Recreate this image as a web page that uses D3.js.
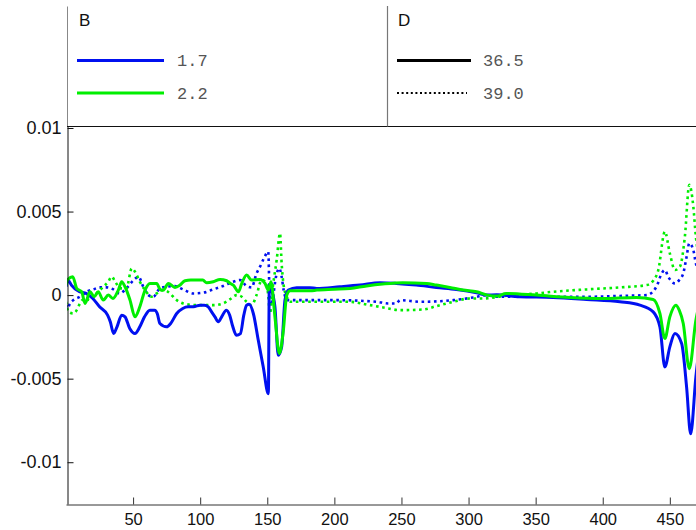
<!DOCTYPE html>
<html>
<head>
<meta charset="utf-8">
<script src="https://cdn.jsdelivr.net/npm/d3@7/dist/d3.min.js"></script>
<style>
  html, body { margin: 0; padding: 0; background: #fff; }
  svg { display: block; }
</style>
</head>
<body>
<svg id="chart" width="696" height="530"></svg>
<script>
// Difference spectra: B = 1.7 / 2.2 (colour), D = 36.5 / 39.0 (line style)
const xTicks = [50, 100, 150, 200, 250, 300, 350, 400, 450];
const yTicks = [-0.01, -0.005, 0, 0.005, 0.01];
const yTickLabels = ["-0.01", "-0.005", "0", "0.005", "0.01"];

const legendB = ["1.7", "2.2"];
const legendD = ["36.5", "39.0"];

// [x, value] pairs per series
const b17_d365 = [
  [0, 0.0005], [1.5, 0.0009], [4, 0.0006], [10, 0.0002], [15, 0.0001], [20, -0.0002],
  [25, -0.0007], [31, -0.0012], [33, -0.0016], [35.5, -0.0023], [38, -0.0019], [41.5, -0.0012],
  [44, -0.0013], [47.5, -0.002], [51.4, -0.0023], [55, -0.0019], [58.5, -0.0013], [62.5, -0.0009],
  [66, -0.0009], [68, -0.0011], [70, -0.0017], [75, -0.0019], [78, -0.0017], [82.5, -0.0011],
  [87, -0.0008], [91, -0.0007], [95, -0.0007], [100, -0.0006], [103, -0.0006], [106, -0.0007],
  [108.5, -0.001], [111, -0.0013], [113.5, -0.0016], [116, -0.0013], [119.5, -0.0009], [122, -0.0012],
  [124, -0.0018], [127, -0.0024], [130, -0.0023], [132.5, -0.0012], [134.6, -0.0006], [136.5, -0.00055],
  [139.6, -0.0011], [143.3, -0.0027], [147, -0.0043], [150.8, -0.0059], [151.5, 0.0005], [153, 0.0003],
  [155.7, -0.0007], [158.2, -0.0036], [160.7, -0.0031], [163.2, -0.0003], [165.7, 0.0003], [171.9, 0.00044],
  [181.8, 0.00044], [186.8, 0.0004], [204, 0.0005], [219, 0.0006], [234, 0.00074], [246, 0.0007],
  [261, 0.0006], [276, 0.00046], [291, 0.00034], [306, 0.00014], [313.5, 0.0], [321, 0.00002],
  [338, -0.0001], [363, -0.00014], [388, -0.00026], [412.8, -0.0004], [427.7, -0.0006], [437.6, -0.001],
  [442.6, -0.0019], [446.3, -0.0043], [450, -0.0031], [453.8, -0.0023], [458.8, -0.0029], [462.5, -0.0055],
  [465.5, -0.0083], [469.4, -0.0049], [472, -0.003]
];

const b22_d365 = [
  [0, 0.0006], [1, 0.0009], [5, 0.0011], [8, 0.0004], [11.7, 0.0002], [14.2, -0.0005],
  [17.9, 0.0002], [21, -0.0001], [24, 0.0002], [27.8, -0.0003], [31.5, 0.0], [35, -0.0002],
  [39, 0.0003], [41.5, 0.0008], [44, 0.0005], [47.7, -0.0003], [51.4, -0.0013], [55, -0.0007],
  [58.9, 0.0003], [62.6, 0.0007], [67.6, 0.0007], [70.5, 0.0003], [72.5, 0.0003], [76.3, 0.0007],
  [81.2, 0.00046], [85, 0.0006], [88.7, 0.00086], [93, 0.0009], [97.4, 0.0009], [102, 0.0009],
  [104.8, 0.00074], [109.7, 0.0008], [114.8, 0.00094], [119.7, 0.00086], [122.5, 0.0007], [124.7, 0.0006],
  [128.5, 0.0002], [131, 0.0007], [134.6, 0.0012], [138.3, 0.0009], [144.6, 0.00094], [148.3, 0.0007],
  [150.8, 0.0003], [152.8, 0.0008], [155.7, -0.0013], [159, -0.0035], [162, -0.0021], [164.5, 0.0],
  [167, 0.00026], [172, 0.00026], [182, 0.00026], [187, 0.0003], [200, 0.00035], [211.6, 0.0004],
  [224, 0.00055], [236, 0.00066], [251, 0.00074], [268.8, 0.0007], [276, 0.0006], [286, 0.00046],
  [296, 0.0003], [306, 0.0002], [314, 0.0], [321, -0.00006], [328, 0.0001], [350.7, 0.0],
  [375.6, -0.00014], [400, -0.0002], [425, -0.00014], [437.6, -0.00026], [442.6, -0.0011], [446.3, -0.0026],
  [450, -0.0013], [454.5, -0.0006], [457, -0.0009], [460, -0.0017], [464.5, -0.0044], [469.4, -0.0015],
  [472, -0.0005]
];

const b17_d390 = [
  [0, -0.0006], [1, -0.0008], [3, -0.0005], [5.5, -0.0003], [10.4, -0.0001], [15.4, 0.0002],
  [20.4, 0.00034], [25.3, 0.00046], [30.3, 0.00046], [35.3, 0.00034], [40, 0.0001], [45, 0.0004],
  [50.4, 0.0009], [54, 0.0011], [57.6, 0.0005], [61.4, 0.0], [65, -0.0001], [70, 0.0004],
  [75, 0.0005], [81.2, 0.00054], [87.4, 0.00034], [95, 0.0001], [102, 0.00014], [109.7, 0.00034],
  [117, 0.00054], [124.7, 0.0008], [129.7, 0.0009], [134.6, 0.00054], [138.3, 0.00046], [142, 0.0013],
  [144.6, 0.0017], [147.5, 0.0022], [150.7, 0.0026], [152, -0.0006], [154, -0.0002], [156.5, 0.0011],
  [159, 0.0016], [160.7, 0.0011], [162.2, 0.0003], [165, -0.0003], [170, -0.0003], [200, -0.0003],
  [231.5, -0.0004], [240, -0.0005], [246, -0.0005], [249, -0.0003], [264, -0.0004], [288.6, -0.0003],
  [303.5, -0.00014], [313.5, 0.0], [321, -0.0001], [338, -0.0001], [363, -0.0001], [388, -0.0001],
  [412.8, -0.00005], [432.7, 0.0], [440, 0.0005], [443.9, 0.0013], [446.3, 0.0015], [448.8, 0.0011],
  [453.8, 0.0007], [457, 0.0009], [460, 0.0013], [462.5, 0.0023], [464.5, 0.0031], [467.5, 0.0027],
  [469.4, 0.0019], [472, 0.0015]
];

const b22_d390 = [
  [0, -0.0004], [1.7, -0.001], [5.5, -0.0011], [8, -0.0009], [10.4, -0.0005], [14, -0.0002],
  [18, -0.0003], [22.8, 0.0001], [27.8, 0.0005], [31.5, 0.0008], [34, 0.0011], [36.7, 0.0008],
  [40.4, 0.0004], [45, 0.0004], [49, 0.0016], [51.4, 0.0014], [55, 0.0008], [58.9, 0.0003],
  [63.8, -0.0001], [67.6, 0.0001], [72.5, 0.0003], [76, 0.0002], [82.5, -0.0003], [87.4, -0.0005],
  [97.4, -0.0006], [110, -0.0006], [117, -0.0005], [122, -0.00026], [127.2, 0.0], [131, -0.0001],
  [134.6, -0.0004], [138.3, -0.0006], [142, 0.0], [145.8, 0.0009], [149.5, 0.0007], [150.8, -0.0001],
  [152, -0.0011], [154, 0.0004], [157, 0.0021], [159.5, 0.0037], [160.7, 0.0019], [162, 0.0007],
  [164.5, -0.0001], [167, -0.0004], [211, -0.0004], [226.5, -0.0006], [236.5, -0.00074], [249, -0.0009],
  [266, -0.00086], [276, -0.00066], [288.6, -0.0004], [301, -0.0002], [311, -0.0002], [326, -0.00006],
  [350.7, 0.0001], [363, 0.0002], [388, 0.00034], [412.8, 0.00046], [432.7, 0.0006], [438, 0.0009],
  [441.4, 0.0015], [446.3, 0.0038], [450, 0.0025], [453.8, 0.0015], [457.5, 0.0017], [461.2, 0.0035],
  [464.5, 0.0066], [467.5, 0.0053], [469.4, 0.0035], [472, 0.002]
];

const BLUE = "#0010f0";
const GREEN = "#00ee00";

const series = [
  { data: b17_d390, color: BLUE, dotted: true },
  { data: b22_d390, color: GREEN, dotted: true },
  { data: b17_d365, color: BLUE, dotted: false },
  { data: b22_d365, color: GREEN, dotted: false }
];

const svg = d3.select("#chart");
const plotLeft = 67, plotRight = 697, plotTop = 6, plotBottom = 504;

const x = d3.scaleLinear().domain([0, 469.5]).range([plotLeft - 1, 696]);
const y = d3.scaleLinear().domain([-0.0125, 0.0173]).range([plotBottom, plotTop]);

svg.append("defs").append("clipPath").attr("id", "plotclip")
  .append("rect").attr("x", plotLeft).attr("y", plotTop)
  .attr("width", plotRight - plotLeft).attr("height", plotBottom - plotTop);

const line = d3.line()
  .x(d => x(d[0]))
  .y(d => y(d[1]))
  .curve(d3.curveMonotoneX);

const plot = svg.append("g").attr("clip-path", "url(#plotclip)");
series.forEach(s => {
  plot.append("path")
    .attr("d", line(s.data))
    .attr("fill", "none")
    .attr("stroke", s.color)
    .attr("stroke-width", s.dotted ? 2.6 : 3)
    .attr("stroke-linejoin", "round")
    .attr("stroke-dasharray", s.dotted ? "2.6,3.6" : null);
});

// Axes with inward ticks
const yAxis = d3.axisLeft(y)
  .tickValues(yTicks)
  .tickFormat((d, i) => yTickLabels[i])
  .tickSizeInner(-6)
  .tickSizeOuter(0)
  .tickPadding(6);

const gy = svg.append("g").attr("transform", `translate(${plotLeft + 0.5},0)`).call(yAxis);
gy.select(".domain").attr("stroke", "#111");
gy.selectAll(".tick line").attr("stroke", "#111");
gy.selectAll("text")
  .attr("font-family", "'Liberation Sans', Arial, sans-serif")
  .attr("font-size", 18)
  .attr("fill", "#111");

const xAxis = d3.axisBottom(x)
  .tickValues(xTicks)
  .tickFormat(d3.format("d"))
  .tickSizeInner(-7)
  .tickSizeOuter(0)
  .tickPadding(9);

const gx = svg.append("g").attr("transform", `translate(0,${plotBottom + 0.5})`).call(xAxis);
gx.select(".domain").attr("stroke", "#333");
gx.selectAll(".tick line").attr("stroke", "#333");
gx.selectAll("text")
  .attr("font-family", "'Liberation Sans', Arial, sans-serif")
  .attr("font-size", 16.5)
  .attr("fill", "#111");

// Legend panel above the curves
const lg = svg.append("g");
lg.append("rect")
  .attr("x", plotLeft + 1).attr("y", 0)
  .attr("width", 696 - plotLeft).attr("height", 126)
  .attr("fill", "#fff");
lg.append("line")
  .attr("x1", plotLeft).attr("x2", 696)
  .attr("y1", 126.5).attr("y2", 126.5)
  .attr("stroke", "#111").attr("stroke-width", 1.2);
lg.append("line")
  .attr("x1", 387.5).attr("x2", 387.5)
  .attr("y1", plotTop).attr("y2", 126.5)
  .attr("stroke", "#777").attr("stroke-width", 1.2);

const titleFont = "'Liberation Sans', Arial, sans-serif";
const monoFont = "'Courier New', 'Liberation Mono', monospace";

lg.append("text").attr("x", 79).attr("y", 26)
  .attr("font-family", titleFont).attr("font-size", 17).attr("fill", "#111").text("B");
lg.append("text").attr("x", 398).attr("y", 26)
  .attr("font-family", titleFont).attr("font-size", 17).attr("fill", "#111").text("D");

const rowY = [60.5, 93];
[BLUE, GREEN].forEach((c, i) => {
  lg.append("line")
    .attr("x1", 77).attr("x2", 164)
    .attr("y1", rowY[i]).attr("y2", rowY[i])
    .attr("stroke", c).attr("stroke-width", 3);
  lg.append("text")
    .attr("x", 177).attr("y", rowY[i]).attr("dy", "0.35em")
    .attr("font-family", monoFont).attr("font-size", 17).attr("fill", "#555")
    .text(legendB[i]);
});

[false, true].forEach((dotted, i) => {
  lg.append("line")
    .attr("x1", 397).attr("x2", dotted ? 467 : 471)
    .attr("y1", rowY[i]).attr("y2", rowY[i])
    .attr("stroke", "#000")
    .attr("stroke-width", dotted ? 2 : 3)
    .attr("stroke-dasharray", dotted ? "2,2.6" : null);
  lg.append("text")
    .attr("x", 483).attr("y", rowY[i]).attr("dy", "0.35em")
    .attr("font-family", monoFont).attr("font-size", 17).attr("fill", "#555")
    .text(legendD[i]);
});
</script>
</body>
</html>
